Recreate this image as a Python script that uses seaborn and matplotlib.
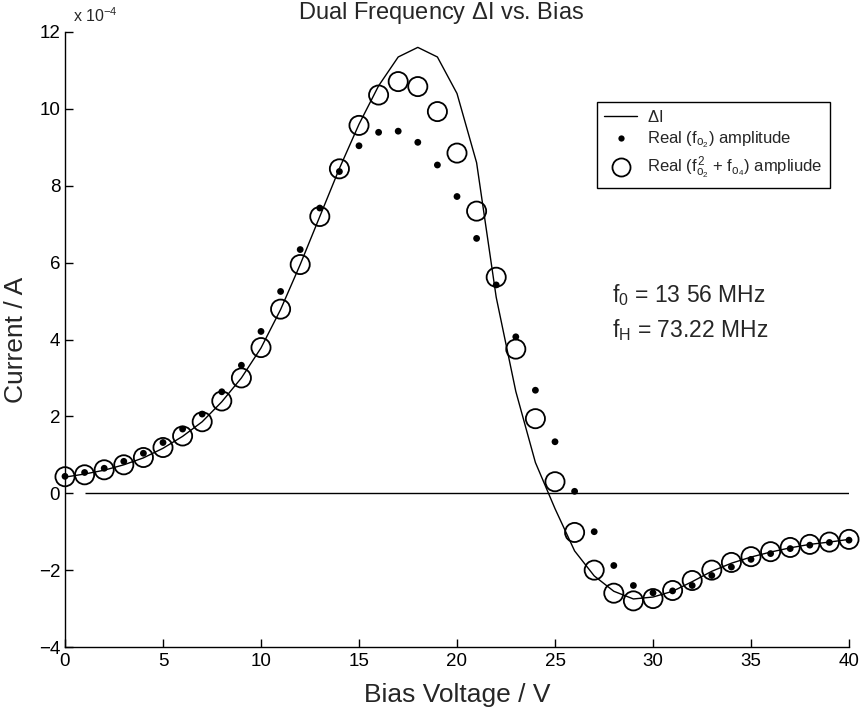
import matplotlib
matplotlib.use("Agg")
import matplotlib.pyplot as plt
import seaborn as sns
import pandas as pd
from matplotlib.lines import Line2D

# ---- data (current in units of 1e-4 A) ----
bias_v = list(range(0, 41))
delta_i = [0.42, 0.50, 0.60, 0.74, 0.92, 1.17, 1.48, 1.86, 2.38, 3.00,
           3.78, 4.78, 5.95, 7.20, 8.45, 9.60, 10.60, 11.35, 11.60, 11.35,
           10.40, 8.60, 5.10, 2.65, 0.80, -0.40, -1.50, -2.15, -2.55, -2.75,
           -2.70, -2.55, -2.30, -2.03, -1.82, -1.66, -1.53, -1.42, -1.33, -1.27,
           -1.20]
real_fo2 = [0.44, 0.54, 0.65, 0.83, 1.04, 1.32, 1.67, 2.06, 2.64, 3.33,
            4.21, 5.25, 6.34, 7.42, 8.37, 9.04, 9.39, 9.42, 9.13, 8.54,
            7.72, 6.63, 5.42, 4.07, 2.68, 1.34, 0.05, -1.00, -1.88, -2.40,
            -2.59, -2.54, -2.40, -2.14, -1.92, -1.72, -1.57, -1.44, -1.35, -1.28,
            -1.22]
real_sum = [0.43, 0.48, 0.61, 0.74, 0.93, 1.19, 1.49, 1.86, 2.40, 3.00,
            3.79, 4.79, 5.95, 7.20, 8.44, 9.57, 10.36, 10.71, 10.58, 9.93,
            8.85, 7.34, 5.62, 3.75, 1.94, 0.30, -1.02, -2.00, -2.60, -2.80,
            -2.74, -2.53, -2.27, -2.00, -1.80, -1.65, -1.52, -1.41, -1.33, -1.27,
            -1.20]
zero_line_x = [1, 40]
x_ticks = [0, 5, 10, 15, 20, 25, 30, 35, 40]
y_ticks = [-4, -2, 0, 2, 4, 6, 8, 10, 12]

df = pd.DataFrame({"bias": bias_v, "delta_i": delta_i,
                   "real_fo2": real_fo2, "real_sum": real_sum})

sns.set_theme(style="ticks")
plt.rcParams["font.family"] = ["Liberation Sans", "DejaVu Sans"]
plt.rcParams["mathtext.fontset"] = "custom"
plt.rcParams["mathtext.rm"] = "Liberation Sans"
plt.rcParams["mathtext.it"] = "Liberation Sans:italic"
plt.rcParams["mathtext.bf"] = "Liberation Sans:bold"

fig = plt.figure(figsize=(8.62, 7.16), dpi=100)
ax = fig.add_axes([65 / 862, 1 - 647 / 716, 784 / 862, 615 / 716])

sns.lineplot(data=df, x="bias", y="delta_i", color="black", linewidth=1.0,
             ax=ax, zorder=2)
sns.scatterplot(data=df, x="bias", y="real_fo2", color="black", s=24,
                edgecolor="none", ax=ax, zorder=3, clip_on=False)
sns.scatterplot(data=df, x="bias", y="real_sum", color="black", s=190,
                ax=ax, zorder=4, linewidth=1.3, clip_on=False)
ax.collections[-1].set_facecolor("none")
ax.collections[-1].set_edgecolor("black")

ax.hlines(0, zero_line_x[0], zero_line_x[1], color="black", linewidth=1.0,
          zorder=1)

ax.set_xlim(0, 40)
ax.set_ylim(-4, 12)
ax.set_xticks(x_ticks)
ax.set_yticks(y_ticks)
ax.tick_params(direction="in", length=6, width=1, labelsize=13.5,
               colors="black")
ax.tick_params(axis="x", pad=4)
for side in ["top", "right"]:
    ax.spines[side].set_visible(False)
for side in ["left", "bottom"]:
    ax.spines[side].set_linewidth(1.0)
    ax.spines[side].set_color("black")

ax.set_xlabel("Bias Voltage / V", fontsize=19, labelpad=10)
ax.set_ylabel("Current / A", fontsize=19, labelpad=8)
ax.set_title(r"Dual Frequency $\Delta$I vs. Bias", fontsize=17, pad=9,
             x=0.48)
ax.text(0.01, 1.012, r"x 10$^{-4}$", transform=ax.transAxes, fontsize=11.5,
        ha="left", va="bottom")

ax.text(27.9, 4.97, r"f$_0$ = 13 56 MHz", fontsize=16.5, ha="left",
        va="baseline")
ax.text(27.9, 4.06, r"f$_\mathrm{H}$ = 73.22 MHz", fontsize=16.5, ha="left",
        va="baseline")

handles = [
    Line2D([], [], color="black", linewidth=1.0),
    Line2D([], [], color="black", marker="o", linestyle="none", markersize=4.5,
           markeredgewidth=0),
    Line2D([], [], color="black", marker="o", linestyle="none", markersize=13,
           markerfacecolor="none", markeredgewidth=1.3),
]
labels = [r"$\Delta$I",
          r"Real (f$_{\mathrm{o}_2}$) amplitude",
          r"Real (f$_{\mathrm{o}_2}^{\,2}$ + f$_{\mathrm{o}_4}$) ampliude"]
leg = ax.legend(handles, labels, loc="upper right",
                bbox_to_anchor=(0.986, 0.90), fontsize=12, frameon=True,
                fancybox=False, edgecolor="black", framealpha=1,
                handlelength=2.0, labelspacing=0.3, borderpad=0.4,
                handletextpad=0.6)
leg.get_frame().set_linewidth(1.0)

fig.savefig("out.png", dpi=100)
